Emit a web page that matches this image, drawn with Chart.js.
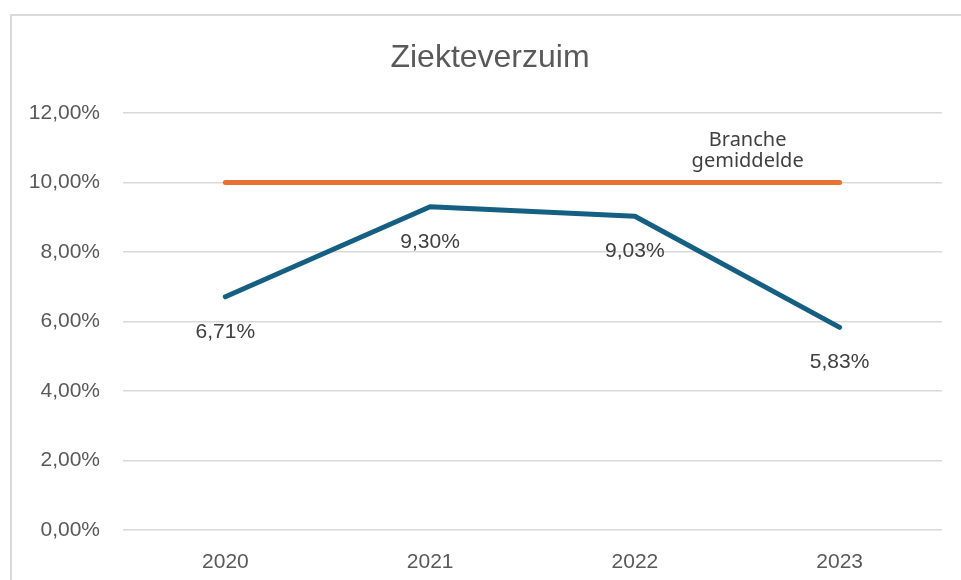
<!DOCTYPE html>
<html>
<head>
<meta charset="utf-8">
<script src="https://cdn.jsdelivr.net/npm/chart.js@4/dist/chart.umd.min.js"></script>
<style>
	body { margin: 0; background: #fff; overflow: hidden; }
	#wrap { position: relative; width: 961px; height: 580px; overflow: hidden; }
	#frame { position: absolute; left: 10px; top: 14px; width: 1000px; height: 600px; border: 2px solid #d9d9d9; box-sizing: border-box; }
	#chart { position: absolute; left: 0; top: 0; }
</style>
</head>
<body>
<div id="wrap">
	<div id="frame"></div>
	<canvas id="chart" width="961" height="580"></canvas>
</div>
<script>
const years = ["2020", "2021", "2022", "2023"];
const verzuim = [6.71, 9.30, 9.03, 5.83];
const branche = [10, 10, 10, 10];
const brancheLabel = ["Branche", "gemiddelde"];
const chartTitle = "Ziekteverzuim";

function pct(v) {
	return v.toFixed(2).replace(".", ",") + "%";
}

// own label + title drawing, the datalabels plugin is not loaded
const labelPlugin = {
	id: "labels",
	afterDatasetsDraw(chart) {
		const ctx = chart.ctx;
		ctx.save();
		ctx.fillStyle = "#404040";
		ctx.textAlign = "center";
		ctx.textBaseline = "middle";
		ctx.font = "21px 'Liberation Sans', Arial, sans-serif";
		chart.getDatasetMeta(0).data.forEach((pt, i) => {
			ctx.fillText(pct(verzuim[i]), pt.x, pt.y + 35);
		});
		const meta = chart.getDatasetMeta(1).data;
		const last = meta[meta.length - 1];
		ctx.font = "20px 'Noto Sans', sans-serif";
		ctx.textBaseline = "alphabetic";
		ctx.fillText(brancheLabel[0], last.x - 92, last.y - 37);
		ctx.fillText(brancheLabel[1], last.x - 92, last.y - 16);

		// title sits centred on the whole chart box, which runs past the window
		ctx.fillStyle = "#595959";
		ctx.font = "32px 'Liberation Sans', Arial, sans-serif";
		ctx.textBaseline = "middle";
		ctx.fillText(chartTitle, 490, 58);
		ctx.restore();
	}
};

const context = document.getElementById("chart").getContext("2d");
const chart = new Chart(context, {
	type: "line",
	data: {
		labels: years,
		datasets: [{
			label: "Ziekteverzuim",
			data: verzuim,
			borderColor: "#156082",
			borderWidth: 5,
			borderCapStyle: "round",
			borderJoinStyle: "round",
			pointRadius: 0,
			tension: 0
		}, {
			label: "Branche gemiddelde",
			data: branche,
			borderColor: "#E97132",
			borderWidth: 5,
			borderCapStyle: "round",
			pointRadius: 0,
			tension: 0
		}]
	},
	options: {
		responsive: false,
		animation: false,
		layout: { padding: { left: 0, right: 19, top: 113, bottom: 0 } },
		plugins: {
			legend: { display: false },
			tooltip: { enabled: false },
			title: { display: false }
		},
		scales: {
			x: {
				offset: true,
				grid: { display: false },
				border: { display: false },
				ticks: {
					color: "#595959",
					padding: 12,
					font: { family: "'Liberation Sans', Arial, sans-serif", size: 21 }
				},
				afterFit: scale => { scale.height = 50; }
			},
			y: {
				min: 0,
				max: 12,
				grid: { color: "#d9d9d9", lineWidth: 1.5, drawTicks: false },
				border: { display: false },
				ticks: {
					stepSize: 2,
					color: "#595959",
					padding: 23,
					font: { family: "'Liberation Sans', Arial, sans-serif", size: 21 },
					callback: value => pct(value)
				},
				afterFit: scale => { scale.width = 123; }
			}
		}
	},
	plugins: [labelPlugin]
});
</script>
</body>
</html>
